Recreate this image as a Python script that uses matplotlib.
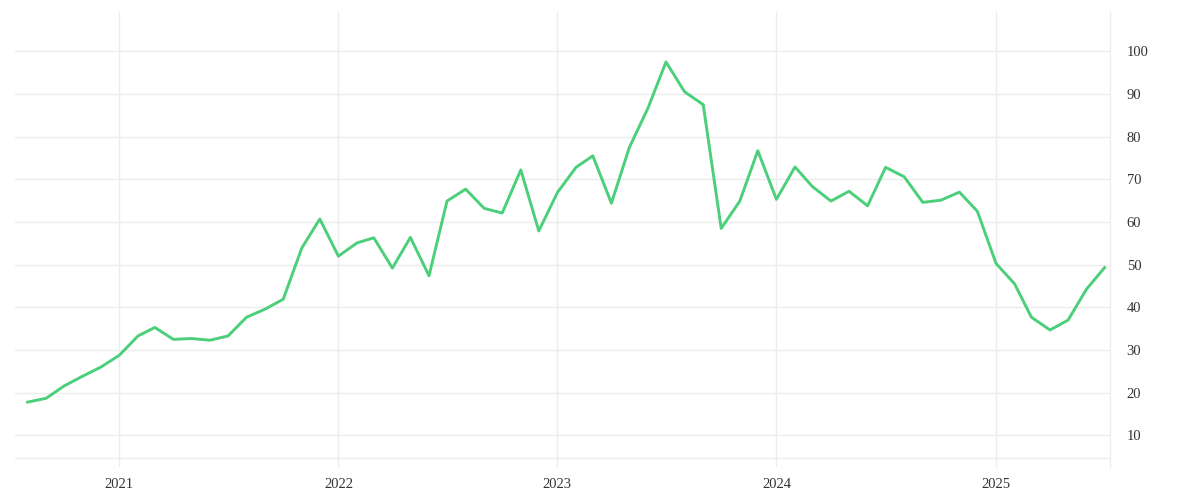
import pandas as pd
import matplotlib
matplotlib.use("Agg")
import matplotlib.pyplot as plt
import matplotlib.dates as mdates

# monthly values, Aug 2020 - Jul 2025
months = pd.date_range("2020-08-01", "2025-07-01", freq="MS")
values = [
    17.8, 18.7, 21.6, 23.9, 26.0,                                           # 2020
    28.8, 33.3, 35.3, 32.5, 32.7, 32.3, 33.3, 37.7, 39.6, 41.9, 53.9, 60.7,  # 2021
    52.0, 55.1, 56.3, 49.2, 56.4, 47.4, 64.9, 67.7, 63.2, 62.1, 72.2, 57.9,  # 2022
    66.9, 72.8, 75.5, 64.4, 77.5, 86.7, 97.5, 90.5, 87.5, 58.5, 64.9, 76.7,  # 2023
    65.3, 72.9, 68.3, 64.9, 67.2, 63.8, 72.8, 70.6, 64.6, 65.1, 67.0, 62.5,  # 2024
    50.3, 45.5, 37.7, 34.7, 37.0, 44.3, 49.3,                               # 2025
]
y_ticks = [10, 20, 30, 40, 50, 60, 70, 80, 90, 100]
year_ticks = pd.to_datetime(["2021-01-01", "2022-01-01", "2023-01-01", "2024-01-01", "2025-01-01"])

grid_col = "#ececec"
line_col = "#4ccf7a"
text_col = "#333333"

plt.rcParams['font.family'] = ['Liberation Serif', 'DejaVu Serif']

fig = plt.figure(figsize=(12, 5), dpi=100)
ax = fig.add_axes([0.0125, 0.066, 0.9125, 0.91])

ax.plot(months, values, color=line_col, linewidth=2.1, zorder=3)

ax.set_xlim(pd.Timestamp("2020-07-11"), pd.Timestamp("2025-07-10"))
ax.set_ylim(2.6, 109.2)

ax.set_xticks(year_ticks)
ax.xaxis.set_major_formatter(mdates.DateFormatter("%Y"))
ax.set_yticks(y_ticks)
ax.yaxis.tick_right()

ax.grid(True, color=grid_col, linewidth=1)
ax.axhline(4.6, color=grid_col, linewidth=1, zorder=1)
ax.set_axisbelow(True)

for side in ["top", "left", "bottom"]:
    ax.spines[side].set_visible(False)
ax.spines["right"].set_color(grid_col)
ax.spines["right"].set_linewidth(1)

ax.tick_params(axis="both", length=0, labelsize=10.5, labelcolor=text_col)
ax.tick_params(axis="y", pad=12)
ax.tick_params(axis="x", pad=8)

fig.savefig("out.png", dpi=100, facecolor="white")
